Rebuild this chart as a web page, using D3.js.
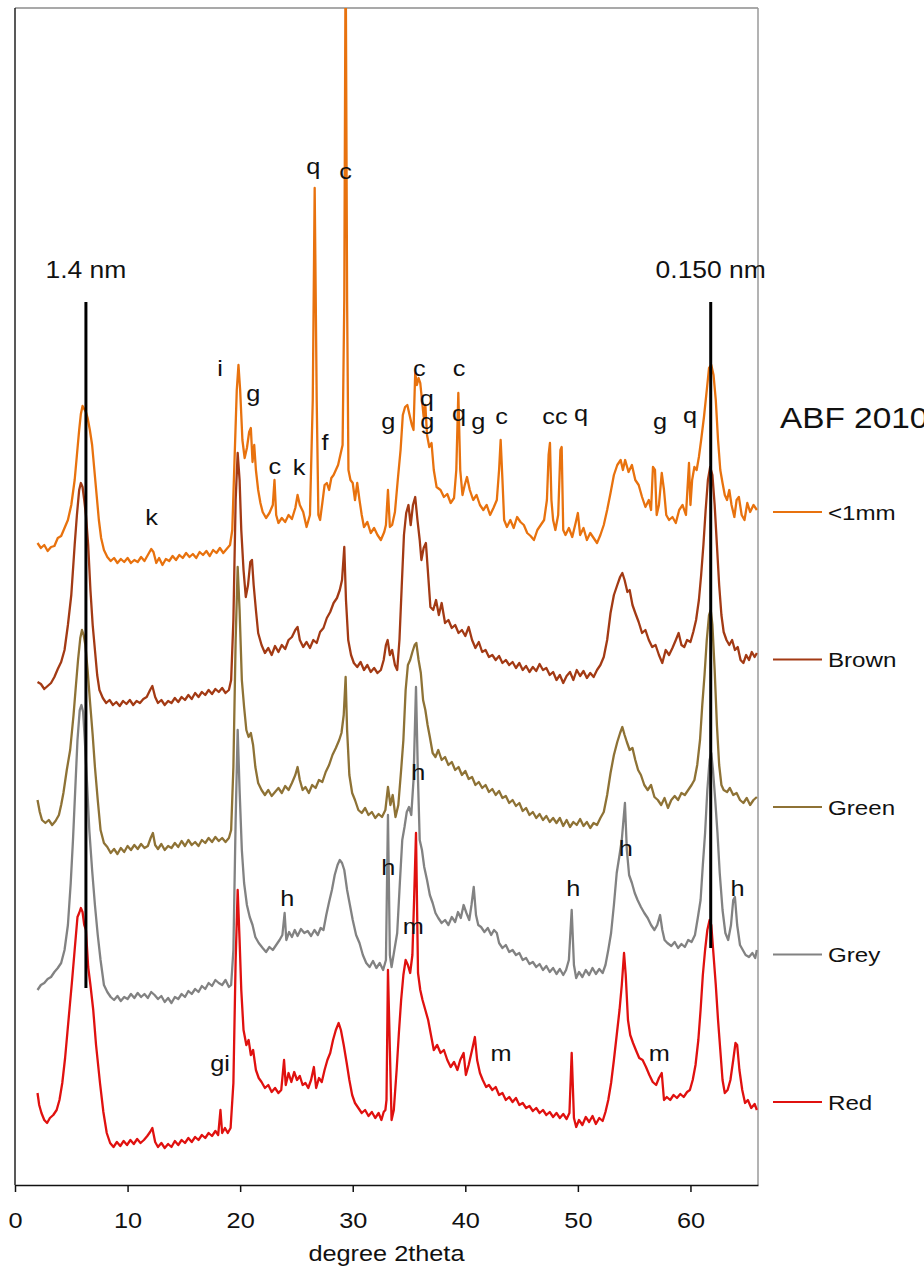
<!DOCTYPE html>
<html><head><meta charset="utf-8">
<script src="https://cdn.jsdelivr.net/npm/d3@7"></script>
<style>
html,body{margin:0;padding:0;background:#fff;}
svg{display:block;font-family:"Liberation Sans",Arial,sans-serif;}
.st{transform-box:fill-box;transform-origin:center;transform:scaleX(1.15);}
.stl{transform-box:fill-box;transform-origin:left center;transform:scaleX(1.15);}
</style></head><body>
<svg id="chart" width="924" height="1271"></svg>
<script>
// ---------------- DATA ----------------
const xTicks = [0, 10, 20, 30, 40, 50, 60];
const xTitle = "degree 2theta";
const chartTitle = "ABF 2010";
const seriesNames = ["<1mm", "Brown", "Green", "Grey", "Red"];

// [2theta, intensity (offset, arbitrary units)]
const sFine = [[2.0,642],[2.3,637],[2.6,640],[2.9,634],[3.2,638],[3.5,639],[3.8,647],[4.1,649],[4.4,657],[4.7,665],[5.0,680],[5.3,705],[5.5,730],[5.7,755],[5.85,771],[6.0,779],[6.15,776],[6.3,773],[6.45,767],[6.65,755],[6.85,740],[7.05,715],[7.25,690],[7.45,665],[7.65,647],[7.9,635],[8.2,628],[8.5,624],[8.8,627],[9.1,622],[9.4,626],[9.7,623],[10.0,627],[10.3,622],[10.6,625],[10.9,623],[11.2,628],[11.5,624],[11.8,630],[12.1,636],[12.3,633],[12.55,622],[12.8,627],[13.1,620],[13.4,626],[13.7,624],[14.0,629],[14.3,625],[14.6,630],[14.9,627],[15.2,632],[15.5,628],[15.8,631],[16.1,627],[16.4,633],[16.7,630],[17.0,634],[17.3,629],[17.6,635],[17.9,632],[18.2,637],[18.5,632],[18.8,636],[19.1,640],[19.3,655],[19.5,725],[19.7,795],[19.85,820],[20.0,795],[20.2,745],[20.4,727],[20.6,737],[20.8,753],[20.95,757],[21.1,723],[21.25,740],[21.4,715],[21.6,695],[21.8,682],[22.0,673],[22.3,667],[22.6,672],[22.9,680],[23.05,705],[23.2,670],[23.4,662],[23.7,667],[24.0,663],[24.3,670],[24.6,666],[24.9,677],[25.1,690],[25.3,680],[25.6,673],[25.9,658],[26.2,670],[26.45,785],[26.62,997],[26.8,785],[26.95,670],[27.1,665],[27.3,682],[27.5,700],[27.7,702],[27.9,695],[28.1,707],[28.3,710],[28.5,715],[28.7,720],[28.9,730],[29.1,740],[29.25,885],[29.37,1245],[29.5,885],[29.62,715],[29.8,705],[30.0,702],[30.2,685],[30.4,702],[30.6,685],[30.8,670],[31.0,658],[31.3,663],[31.6,652],[31.9,657],[32.2,650],[32.5,645],[32.8,653],[32.95,660],[33.13,695],[33.3,658],[33.5,660],[33.75,673],[34.0,705],[34.25,735],[34.45,770],[34.65,778],[34.85,780],[35.05,770],[35.25,760],[35.4,755],[35.55,812],[35.7,800],[35.85,807],[36.0,802],[36.15,785],[36.3,768],[36.45,780],[36.6,750],[36.8,738],[37.0,742],[37.2,715],[37.45,698],[37.8,695],[38.1,688],[38.4,691],[38.7,682],[39.0,687],[39.2,715],[39.38,792],[39.55,715],[39.75,690],[39.95,700],[40.15,708],[40.4,695],[40.7,685],[41.0,690],[41.3,680],[41.6,675],[41.9,680],[42.2,670],[42.5,677],[42.8,685],[43.0,715],[43.14,745],[43.3,705],[43.45,665],[43.7,658],[44.0,665],[44.3,657],[44.6,668],[44.9,663],[45.2,660],[45.5,652],[45.8,649],[46.1,645],[46.4,655],[46.7,660],[47.0,665],[47.25,685],[47.4,730],[47.52,742],[47.65,685],[47.8,665],[48.0,655],[48.25,670],[48.45,735],[48.56,738],[48.7,655],[48.9,650],[49.2,657],[49.5,648],[49.8,662],[50.0,672],[50.2,650],[50.5,657],[50.8,645],[51.1,652],[51.4,647],[51.7,642],[52.0,650],[52.3,660],[52.6,675],[52.9,692],[53.2,710],[53.5,720],[53.8,725],[54.0,715],[54.2,725],[54.5,713],[54.8,720],[55.1,705],[55.4,700],[55.7,688],[56.0,678],[56.3,685],[56.5,675],[56.67,718],[56.85,715],[57.0,670],[57.2,680],[57.45,712],[57.65,695],[57.85,670],[58.1,665],[58.4,668],[58.7,662],[59.0,675],[59.3,680],[59.6,670],[59.87,722],[60.0,680],[60.15,705],[60.35,718],[60.55,715],[60.75,728],[60.95,745],[61.2,768],[61.45,795],[61.65,817],[61.85,820],[62.05,810],[62.25,785],[62.45,745],[62.65,715],[62.85,702],[63.05,690],[63.25,685],[63.45,695],[63.65,680],[63.9,668],[64.1,685],[64.3,688],[64.55,670],[64.8,665],[65.05,682],[65.3,673],[65.6,680],[65.9,675]];

const sBrown = [[2.0,503],[2.3,501],[2.6,496],[2.9,499],[3.2,502],[3.5,508],[3.8,516],[4.1,523],[4.4,535],[4.7,560],[5.0,590],[5.3,640],[5.5,670],[5.7,695],[5.85,702],[6.0,698],[6.15,685],[6.3,670],[6.5,640],[6.7,595],[6.9,560],[7.1,535],[7.3,510],[7.5,495],[7.8,487],[8.1,482],[8.4,485],[8.7,480],[9.0,483],[9.3,479],[9.6,484],[9.9,481],[10.2,485],[10.5,480],[10.8,484],[11.1,482],[11.4,486],[11.7,488],[12.0,495],[12.2,499],[12.45,488],[12.7,482],[13.0,485],[13.3,480],[13.6,484],[13.9,482],[14.2,487],[14.5,483],[14.8,488],[15.1,485],[15.4,490],[15.7,486],[16.0,492],[16.3,488],[16.6,493],[16.9,490],[17.2,495],[17.5,491],[17.8,496],[18.1,493],[18.4,497],[18.7,492],[19.0,495],[19.2,505],[19.4,565],[19.6,685],[19.78,732],[19.95,705],[20.1,655],[20.3,615],[20.5,588],[20.7,600],[20.9,623],[21.05,625],[21.2,600],[21.4,575],[21.6,552],[21.9,540],[22.2,532],[22.5,537],[22.8,530],[23.1,539],[23.4,533],[23.7,540],[24.0,536],[24.3,545],[24.6,548],[24.9,555],[25.1,558],[25.3,545],[25.6,538],[25.9,543],[26.2,537],[26.5,545],[26.8,542],[27.1,553],[27.4,557],[27.7,567],[28.0,573],[28.3,582],[28.6,587],[28.85,595],[29.05,605],[29.25,638],[29.4,585],[29.6,545],[29.85,530],[30.1,522],[30.4,518],[30.7,523],[31.0,515],[31.3,520],[31.6,513],[31.9,517],[32.2,512],[32.5,515],[32.75,525],[32.95,540],[33.1,545],[33.3,530],[33.5,535],[33.75,520],[33.95,515],[34.15,545],[34.35,598],[34.55,650],[34.75,672],[34.95,680],[35.15,660],[35.35,680],[35.55,688],[35.75,665],[35.95,645],[36.1,625],[36.3,637],[36.5,642],[36.7,610],[36.9,578],[37.15,575],[37.4,585],[37.65,570],[37.9,582],[38.2,562],[38.5,565],[38.8,557],[39.1,560],[39.4,552],[39.7,555],[40.0,549],[40.3,558],[40.6,545],[40.9,537],[41.2,543],[41.5,533],[41.8,535],[42.1,528],[42.4,530],[42.7,525],[43.0,529],[43.3,522],[43.6,525],[43.9,520],[44.2,523],[44.5,517],[44.8,522],[45.1,515],[45.4,519],[45.7,513],[46.0,518],[46.3,514],[46.6,521],[46.9,515],[47.2,517],[47.5,510],[47.8,513],[48.1,505],[48.4,510],[48.7,502],[49.0,509],[49.3,513],[49.6,505],[49.9,515],[50.2,509],[50.5,514],[50.8,507],[51.1,512],[51.4,508],[51.7,515],[52.0,520],[52.3,528],[52.6,545],[52.9,572],[53.2,590],[53.5,600],[53.75,608],[53.95,612],[54.15,605],[54.4,593],[54.6,595],[54.85,580],[55.1,572],[55.4,563],[55.7,552],[56.0,555],[56.3,545],[56.6,538],[56.9,540],[57.2,530],[57.5,522],[57.8,535],[58.1,530],[58.4,537],[58.7,545],[58.95,552],[59.2,540],[59.45,538],[59.7,545],[60.0,543],[60.25,553],[60.5,565],[60.75,585],[60.95,610],[61.15,640],[61.35,675],[61.55,705],[61.75,718],[61.95,710],[62.15,680],[62.35,640],[62.55,600],[62.75,570],[62.95,553],[63.2,545],[63.45,540],[63.7,545],[63.95,535],[64.2,538],[64.45,525],[64.7,522],[64.95,530],[65.2,525],[65.45,533],[65.7,528],[65.9,532]];

const sGreen = [[2.0,385],[2.2,373],[2.4,365],[2.7,362],[3.0,365],[3.3,360],[3.6,364],[3.9,370],[4.1,380],[4.3,392],[4.6,415],[4.9,435],[5.2,470],[5.4,498],[5.6,525],[5.8,547],[5.95,555],[6.1,550],[6.25,540],[6.45,515],[6.65,485],[6.9,450],[7.1,418],[7.35,385],[7.6,355],[7.9,342],[8.2,338],[8.5,332],[8.8,336],[9.1,331],[9.4,337],[9.7,333],[10.0,339],[10.3,335],[10.6,340],[10.9,336],[11.2,341],[11.5,337],[11.8,339],[12.05,347],[12.25,352],[12.45,340],[12.7,336],[13.0,341],[13.3,335],[13.6,339],[13.9,337],[14.2,342],[14.5,338],[14.8,344],[15.1,339],[15.4,345],[15.7,340],[16.0,343],[16.3,339],[16.6,345],[16.9,342],[17.2,347],[17.5,343],[17.8,348],[18.1,344],[18.4,347],[18.7,343],[19.0,347],[19.2,355],[19.4,418],[19.6,545],[19.78,618],[19.95,575],[20.15,505],[20.35,478],[20.55,455],[20.75,448],[20.95,452],[21.15,440],[21.35,418],[21.6,402],[21.9,395],[22.2,390],[22.5,395],[22.8,389],[23.1,393],[23.4,397],[23.7,392],[24.0,399],[24.3,395],[24.6,402],[24.9,410],[25.1,418],[25.3,405],[25.55,395],[25.8,398],[26.1,392],[26.4,400],[26.7,397],[27.0,405],[27.3,403],[27.6,413],[27.9,420],[28.2,430],[28.5,437],[28.8,445],[29.0,452],[29.2,470],[29.37,508],[29.5,455],[29.7,410],[29.95,392],[30.2,385],[30.5,375],[30.8,372],[31.1,377],[31.4,370],[31.7,373],[32.0,367],[32.3,371],[32.6,368],[32.9,375],[33.13,398],[33.35,380],[33.55,390],[33.8,368],[34.05,380],[34.3,415],[34.5,445],[34.7,495],[34.9,520],[35.1,525],[35.3,533],[35.5,540],[35.65,542],[35.85,525],[36.05,512],[36.25,485],[36.45,475],[36.65,460],[36.85,448],[37.1,432],[37.35,428],[37.6,435],[37.9,425],[38.2,428],[38.5,420],[38.8,423],[39.1,415],[39.4,418],[39.7,410],[40.0,414],[40.3,406],[40.6,408],[40.9,400],[41.2,403],[41.5,397],[41.8,400],[42.1,393],[42.4,396],[42.7,390],[43.0,394],[43.3,387],[43.6,389],[43.9,382],[44.2,385],[44.5,379],[44.8,382],[45.1,374],[45.4,377],[45.7,370],[46.0,373],[46.3,367],[46.6,371],[46.9,365],[47.2,369],[47.5,363],[47.8,367],[48.1,362],[48.4,367],[48.7,359],[49.0,365],[49.3,358],[49.6,363],[49.9,360],[50.2,366],[50.5,359],[50.8,363],[51.1,357],[51.4,362],[51.7,360],[52.0,367],[52.3,373],[52.6,390],[52.9,412],[53.2,430],[53.5,443],[53.75,452],[53.95,458],[54.15,450],[54.35,443],[54.6,435],[54.85,437],[55.1,425],[55.35,415],[55.6,410],[55.9,400],[56.2,395],[56.5,400],[56.8,388],[57.1,385],[57.4,380],[57.7,387],[58.0,377],[58.3,385],[58.6,389],[58.9,385],[59.2,392],[59.5,390],[59.8,395],[60.1,400],[60.35,405],[60.6,420],[60.85,445],[61.05,480],[61.25,510],[61.45,545],[61.65,570],[61.8,575],[61.95,560],[62.15,515],[62.35,460],[62.55,420],[62.75,400],[62.95,395],[63.25,393],[63.5,397],[63.8,390],[64.1,392],[64.4,385],[64.7,382],[65.0,387],[65.3,380],[65.6,385],[65.9,388]];

const sGrey = [[2.0,195],[2.3,200],[2.6,202],[2.9,206],[3.2,208],[3.5,213],[3.8,217],[4.1,222],[4.4,235],[4.7,260],[4.95,302],[5.15,345],[5.35,395],[5.55,445],[5.75,475],[5.9,480],[6.05,473],[6.2,445],[6.4,402],[6.6,355],[6.85,315],[7.1,280],[7.35,250],[7.6,225],[7.9,200],[8.2,193],[8.5,188],[8.8,185],[9.1,189],[9.4,184],[9.7,188],[10.0,186],[10.3,191],[10.6,187],[10.9,192],[11.2,188],[11.5,191],[11.8,187],[12.1,193],[12.4,190],[12.7,186],[13.0,189],[13.3,183],[13.6,187],[13.9,182],[14.2,188],[14.5,186],[14.8,191],[15.1,188],[15.4,194],[15.7,191],[16.0,196],[16.3,193],[16.6,199],[16.9,196],[17.2,202],[17.5,199],[17.8,205],[18.1,202],[18.4,200],[18.7,205],[19.0,198],[19.2,200],[19.4,235],[19.6,365],[19.78,455],[19.95,395],[20.15,335],[20.35,302],[20.6,280],[20.85,268],[21.1,260],[21.35,248],[21.65,242],[22.0,237],[22.3,233],[22.6,238],[22.9,235],[23.2,240],[23.5,245],[23.75,250],[23.95,272],[24.1,245],[24.35,253],[24.6,248],[24.85,255],[25.1,249],[25.4,256],[25.7,252],[26.0,254],[26.3,249],[26.6,255],[26.9,250],[27.15,257],[27.4,255],[27.65,270],[27.9,283],[28.15,295],[28.4,310],[28.65,320],[28.85,325],[29.05,322],[29.25,315],[29.5,295],[29.75,280],[30.0,265],[30.3,250],[30.6,242],[30.9,230],[31.2,222],[31.5,218],[31.8,224],[32.1,217],[32.4,222],[32.7,215],[32.95,225],[33.13,370],[33.3,230],[33.45,218],[33.7,235],[33.95,252],[34.2,305],[34.4,345],[34.6,358],[34.8,373],[35.0,378],[35.2,370],[35.4,405],[35.62,498],[35.8,405],[35.95,345],[36.15,335],[36.35,318],[36.6,305],[36.85,290],[37.1,282],[37.35,272],[37.6,267],[37.9,262],[38.2,265],[38.5,260],[38.8,268],[39.1,263],[39.35,273],[39.6,267],[39.85,280],[40.1,272],[40.35,265],[40.55,280],[40.75,298],[40.95,270],[41.15,260],[41.4,258],[41.7,253],[42.0,257],[42.3,250],[42.55,255],[42.8,252],[43.0,242],[43.3,237],[43.6,240],[43.9,233],[44.2,235],[44.5,230],[44.8,232],[45.1,225],[45.4,227],[45.7,221],[46.0,223],[46.3,218],[46.6,221],[46.9,215],[47.2,219],[47.5,213],[47.8,217],[48.1,211],[48.4,216],[48.7,210],[48.95,215],[49.2,225],[49.45,275],[49.65,220],[49.85,207],[50.1,213],[50.4,208],[50.7,215],[51.0,210],[51.3,217],[51.6,211],[51.9,216],[52.2,212],[52.45,220],[52.7,235],[52.95,252],[53.2,280],[53.45,312],[53.7,330],[53.9,345],[54.05,365],[54.18,382],[54.35,335],[54.55,310],[54.8,302],[55.05,292],[55.3,285],[55.6,278],[55.9,272],[56.2,267],[56.5,260],[56.8,255],[57.05,260],[57.3,270],[57.5,255],[57.7,245],[57.95,242],[58.3,239],[58.6,243],[58.9,237],[59.2,241],[59.5,238],[59.8,245],[60.1,243],[60.4,250],[60.65,267],[60.9,285],[61.1,320],[61.3,352],[61.5,395],[61.7,425],[61.85,432],[62.0,415],[62.2,385],[62.4,352],[62.6,312],[62.85,275],[63.1,252],[63.35,245],[63.6,260],[63.8,285],[63.95,288],[64.15,260],[64.4,240],[64.65,235],[64.9,230],[65.2,228],[65.5,232],[65.75,227],[65.9,235]];

const sRed = [[2.0,92],[2.15,80],[2.35,72],[2.6,65],[2.85,62],[3.1,67],[3.4,70],[3.7,75],[3.95,85],[4.2,102],[4.45,127],[4.65,152],[4.85,177],[5.05,202],[5.3,235],[5.55,268],[5.7,272],[5.85,277],[6.0,273],[6.15,260],[6.3,255],[6.5,218],[6.7,200],[6.95,175],[7.2,140],[7.55,102],[7.85,73],[8.15,52],[8.45,42],[8.75,38],[9.05,43],[9.35,39],[9.65,44],[9.95,40],[10.25,45],[10.55,41],[10.85,46],[11.15,42],[11.45,45],[11.75,49],[12.0,53],[12.2,57],[12.45,43],[12.7,38],[13.0,42],[13.3,37],[13.6,41],[13.9,38],[14.2,44],[14.5,40],[14.8,45],[15.1,42],[15.4,47],[15.7,43],[16.0,48],[16.3,45],[16.6,50],[16.9,47],[17.2,52],[17.5,49],[17.8,54],[18.05,50],[18.25,75],[18.4,52],[18.65,57],[18.9,52],[19.15,57],[19.4,102],[19.6,225],[19.78,295],[19.95,245],[20.1,195],[20.3,155],[20.55,140],[20.75,145],[20.95,130],[21.15,135],[21.4,115],[21.65,107],[21.9,103],[22.2,97],[22.5,100],[22.8,93],[23.1,97],[23.4,92],[23.65,95],[23.9,125],[24.05,100],[24.3,112],[24.55,103],[24.8,113],[25.05,105],[25.3,109],[25.55,100],[25.8,102],[26.05,97],[26.3,105],[26.55,118],[26.75,97],[27.0,107],[27.25,103],[27.5,115],[27.75,125],[28.0,132],[28.25,145],[28.5,155],[28.75,162],[28.95,155],[29.2,140],[29.45,123],[29.7,105],[29.95,90],[30.2,82],[30.5,77],[30.8,72],[31.1,75],[31.4,69],[31.7,73],[32.0,67],[32.3,72],[32.55,65],[32.75,73],[32.9,75],[33.0,85],[33.13,215],[33.3,135],[33.45,65],[33.65,75],[33.9,115],[34.1,152],[34.3,185],[34.5,210],[34.7,225],[34.9,220],[35.1,212],[35.3,230],[35.45,285],[35.62,352],[35.8,212],[36.0,195],[36.2,185],[36.45,175],[36.7,165],[36.95,150],[37.2,135],[37.5,140],[37.8,132],[38.1,135],[38.4,125],[38.7,118],[39.0,123],[39.3,115],[39.55,125],[39.85,132],[40.05,110],[40.3,120],[40.6,135],[40.85,148],[41.05,125],[41.3,112],[41.55,105],[41.85,98],[42.1,100],[42.4,95],[42.7,98],[43.0,90],[43.3,92],[43.6,85],[43.9,88],[44.2,83],[44.5,87],[44.8,80],[45.1,82],[45.4,77],[45.7,79],[46.0,74],[46.3,77],[46.6,72],[46.9,75],[47.2,70],[47.5,73],[47.8,68],[48.1,72],[48.4,67],[48.7,71],[49.0,66],[49.25,72],[49.45,132],[49.65,67],[49.85,58],[50.1,65],[50.4,60],[50.7,68],[51.0,63],[51.3,69],[51.6,61],[51.9,67],[52.2,64],[52.45,73],[52.7,85],[52.95,102],[53.2,125],[53.45,150],[53.7,175],[53.9,200],[54.1,232],[54.25,210],[54.45,165],[54.65,150],[54.9,142],[55.15,135],[55.45,127],[55.75,125],[56.05,118],[56.35,110],[56.65,103],[56.95,100],[57.2,107],[57.45,112],[57.65,85],[57.9,88],[58.2,85],[58.5,90],[58.8,87],[59.1,91],[59.4,88],[59.7,93],[59.95,95],[60.2,105],[60.45,120],[60.7,145],[60.9,175],[61.1,210],[61.3,235],[61.5,255],[61.7,265],[61.85,260],[62.05,230],[62.25,200],[62.45,165],[62.65,135],[62.85,105],[63.05,92],[63.3,95],[63.55,105],[63.8,125],[64.0,142],[64.15,140],[64.35,115],[64.6,95],[64.85,82],[65.1,85],[65.4,77],[65.7,81],[65.9,75]];

const seriesData = [sFine, sBrown, sGreen, sGrey, sRed];

// reference d-spacing lines: [label, 2theta, top intensity, bottom intensity]
const refLines = [["1.4 nm", 6.3, 883, 197], ["0.150 nm", 61.8, 883, 237]];
const refLabelLevel = 907;

// peak annotations: [text, 2theta, intensity]
const peakLabels = [
  ["k",12.14,660],["i",18.21,809],["g",21.17,784],["c",23.09,711],["k",25.23,710],
  ["f",27.54,735],["q",26.5,1011],["c",29.37,1006],["g",33.16,756],["c",35.91,809],
  ["q",36.57,779],["g",36.62,756],["c",39.44,809],["q",39.44,764],["g",41.15,756],
  ["c",43.23,761],["cc",47.97,761],["q",50.28,764],["g",57.29,756],["q",59.96,762],
  ["h",24.19,279],["h",33.16,310],["h",35.82,405],["h",49.59,289],["h",54.25,329],
  ["h",64.19,289],["m",35.38,251],["m",43.17,124],["m",57.23,124],["gi",18.21,114]
];

// ---------------- STYLE ----------------
const colors = ["#E8720E", "#A33A14", "#8E7235", "#828282", "#E0110F"];
const plot = {left: 15, right: 758, top: 8, bottom: 1185};

const svg = d3.select("#chart");
const x = d3.scaleLinear().domain([0, 66]).range([plot.left, plot.right]);
const y = d3.scaleLinear().domain([0, 1177]).range([plot.bottom, plot.top]);

svg.append("defs").append("clipPath").attr("id", "clip")
  .append("rect").attr("x", plot.left).attr("y", plot.top)
  .attr("width", plot.right - plot.left).attr("height", plot.bottom - plot.top);

// frame
svg.append("line").attr("x1", plot.left).attr("x2", plot.right).attr("y1", plot.top).attr("y2", plot.top)
  .attr("stroke", "#8c8c8c").attr("stroke-width", 1.5);
svg.append("line").attr("x1", plot.right).attr("x2", plot.right).attr("y1", plot.top).attr("y2", plot.bottom)
  .attr("stroke", "#9a9a9a").attr("stroke-width", 1.5);
svg.append("line").attr("x1", plot.left).attr("x2", plot.left).attr("y1", plot.top).attr("y2", plot.bottom)
  .attr("stroke", "#222").attr("stroke-width", 1.5);

// traces
const line = d3.line().x(d => x(d[0])).y(d => y(d[1]));
const g = svg.append("g").attr("clip-path", "url(#clip)");
seriesData.forEach((s, i) => {
  g.append("path").datum(s).attr("d", line).attr("fill", "none")
    .attr("stroke", colors[i]).attr("stroke-width", 2.3).attr("stroke-linejoin", "round");
});

// reference lines
refLines.forEach(r => {
  svg.append("line").attr("x1", x(r[1])).attr("x2", x(r[1]))
    .attr("y1", y(r[2])).attr("y2", y(r[3])).attr("stroke", "#000").attr("stroke-width", 3);
  svg.append("text").attr("class", "st").attr("x", x(r[1])).attr("y", y(refLabelLevel))
    .attr("text-anchor", "middle").attr("font-size", 23).attr("fill", "#111").text(r[0]);
});

// peak labels
peakLabels.forEach(p => {
  svg.append("text").attr("class", "st").attr("x", x(p[1])).attr("y", y(p[2]))
    .attr("text-anchor", "middle").attr("font-size", 22).attr("fill", "#111").text(p[0]);
});

// x axis
const ax = svg.append("g").attr("transform", `translate(0,${plot.bottom})`)
  .call(d3.axisBottom(x).tickValues(xTicks).tickSize(7).tickSizeOuter(0).tickPadding(20));
ax.select(".domain").attr("stroke", "#111").attr("stroke-width", 1.5);
ax.selectAll(".tick line").attr("stroke", "#111").attr("stroke-width", 1.5);
ax.selectAll(".tick text").attr("class", "st").attr("font-size", 22)
  .attr("font-family", '"Liberation Sans",Arial,sans-serif').attr("fill", "#111");
svg.append("text").attr("class", "st").attr("x", (plot.left + plot.right) / 2).attr("y", 1261)
  .attr("text-anchor", "middle").attr("font-size", 22).attr("fill", "#111").text(xTitle);

// legend
svg.append("text").attr("class", "stl").attr("x", 780).attr("y", 428)
  .attr("font-size", 29).attr("fill", "#111").text(chartTitle);
const legY = d3.scalePoint().domain(seriesNames).range([512, 1102]);
seriesNames.forEach((n, i) => {
  svg.append("line").attr("x1", 773).attr("x2", 822).attr("y1", legY(n)).attr("y2", legY(n))
    .attr("stroke", colors[i]).attr("stroke-width", 2.1);
  svg.append("text").attr("class", "stl").attr("x", 828).attr("y", legY(n) + 8)
    .attr("font-size", 21).attr("fill", "#111").text(n);
});
</script>
</body></html>
